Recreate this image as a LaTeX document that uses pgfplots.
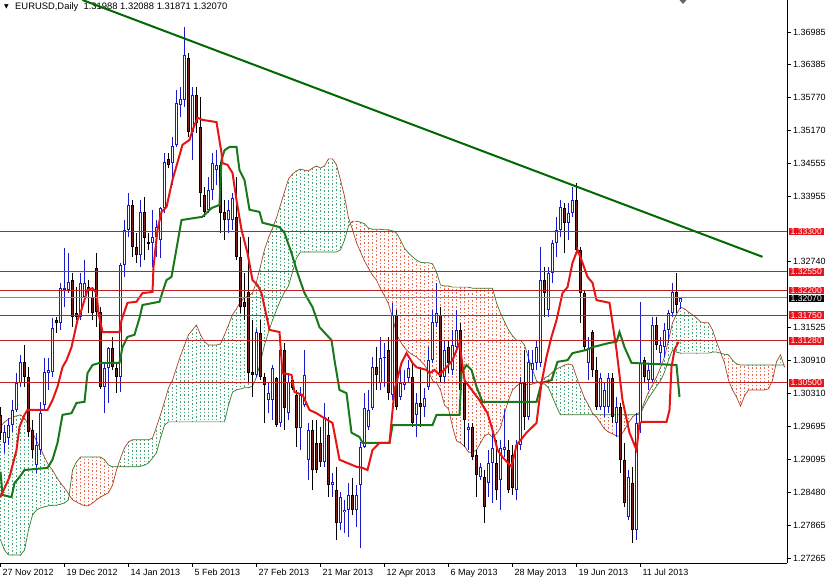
\documentclass[border=0pt]{standalone}
\usepackage{pgfplots}
\pgfplotsset{compat=1.18}
\usepackage{pgfplotstable}
\usepackage{fontspec}
\setmainfont{Liberation Sans}
\newfontfamily\symfont{DejaVu Sans}
\definecolor{bullc}{RGB}{25,25,200}
\definecolor{bearc}{RGB}{120,32,25}
\definecolor{tenkanc}{RGB}{230,20,20}
\definecolor{kijunc}{RGB}{25,120,25}
\definecolor{spanA}{RGB}{170,70,45}
\definecolor{spanB}{RGB}{60,120,45}
\definecolor{hatchG}{RGB}{70,165,120}
\definecolor{hatchR}{RGB}{230,105,80}
\definecolor{hlinec}{RGB}{190,35,35}
\definecolor{LabelRed}{RGB}{232,20,28}
\definecolor{curline}{RGB}{120,140,165}
\definecolor{trendc}{RGB}{0,105,0}

\pgfplotstableread{
i o h l c
1 1.2939 1.2972 1.2921 1.2959
2 1.2948 1.2985 1.2935 1.2972
3 1.2972 1.3018 1.2959 1.3000
4 1.3000 1.3068 1.2996 1.3050
5 1.3050 1.3102 1.3043 1.3089
9 1.2898 1.2958 1.2884 1.2935
10 1.2926 1.3015 1.2917 1.2994
11 1.3009 1.3096 1.3000 1.3070
12 1.3068 1.3096 1.3037 1.3074
13 1.3070 1.3170 1.3061 1.3151
15 1.3161 1.3235 1.3148 1.3225
16 1.3222 1.3299 1.3190 1.3225
17 1.3222 1.3290 1.3216 1.3237
20 1.3172 1.3253 1.3166 1.3235
21 1.3209 1.3277 1.3203 1.3235
26 1.3043 1.3087 1.2994 1.3078
27 1.3078 1.3116 1.3013 1.3115
30 1.3061 1.3272 1.3033 1.3268
31 1.3268 1.3351 1.3246 1.3333
32 1.3333 1.3401 1.3320 1.3379
35 1.3286 1.3388 1.3264 1.3366
38 1.3309 1.3370 1.3264 1.3320
39 1.3320 1.3351 1.3283 1.3338
40 1.3314 1.3375 1.3281 1.3373
41 1.3373 1.3475 1.3364 1.3458
43 1.3456 1.3505 1.3416 1.3488
44 1.3490 1.3591 1.3486 1.3567
45 1.3564 1.3597 1.3541 1.3575
46 1.3573 1.3708 1.3560 1.3656
48 1.3514 1.3597 1.3462 1.3582
52 1.3370 1.3431 1.3364 1.3407
53 1.3407 1.3475 1.3388 1.3456
54 1.3443 1.3480 1.3416 1.3453
57 1.3351 1.3388 1.3327 1.3370
58 1.3351 1.3401 1.3333 1.3392
64 1.3065 1.3150 1.3061 1.3144
67 1.3018 1.3050 1.2994 1.3031
68 1.3018 1.3083 1.2981 1.3078
70 1.2976 1.3129 1.2969 1.3111
72 1.2994 1.3068 1.2981 1.3052
75 1.2967 1.3043 1.2926 1.3028
76 1.3009 1.3111 1.3006 1.3065
77 1.2908 1.2976 1.2871 1.2963
81 1.2904 1.3013 1.2895 1.2987
83 1.2861 1.2884 1.2839 1.2867
85 1.2791 1.2848 1.2778 1.2839
86 1.2811 1.2834 1.2773 1.2815
87 1.2815 1.2865 1.2765 1.2843
89 1.2815 1.2861 1.2784 1.2843
90 1.2861 1.2941 1.2745 1.2932
91 1.2932 1.3031 1.2930 1.3004
92 1.2969 1.3037 1.2963 1.3000
93 1.3004 1.3098 1.3000 1.3079
95 1.3050 1.3135 1.3037 1.3096
96 1.3096 1.3124 1.3043 1.3098
98 1.3028 1.3198 1.3018 1.3176
100 1.3024 1.3079 1.3018 1.3050
101 1.3046 1.3074 1.3037 1.3052
102 1.3059 1.3092 1.3050 1.3078
104 1.2991 1.3031 1.2950 1.3013
106 1.3006 1.3041 1.2987 1.3022
107 1.3043 1.3116 1.3037 1.3092
108 1.3092 1.3185 1.3087 1.3163
109 1.3161 1.3235 1.3153 1.3179
111 1.3061 1.3129 1.3050 1.3111
113 1.3074 1.3148 1.3065 1.3120
114 1.3116 1.3185 1.3111 1.3148
117 1.2963 1.2976 1.2926 1.2969
120 1.2876 1.2902 1.2871 1.2895
122 1.2865 1.2926 1.2839 1.2902
123 1.2902 1.2963 1.2828 1.2930
125 1.2871 1.2945 1.2815 1.2930
126 1.2926 1.3000 1.2913 1.2932
129 1.2852 1.2945 1.2834 1.2935
130 1.2935 1.3061 1.2926 1.3050
132 1.2987 1.3111 1.2981 1.3089
133 1.3074 1.3111 1.3050 1.3087
134 1.3087 1.3129 1.3074 1.3116
135 1.3087 1.3301 1.3079 1.3240
137 1.3185 1.3264 1.3172 1.3253
138 1.3253 1.3314 1.3235 1.3309
139 1.3309 1.3357 1.3283 1.3333
140 1.3333 1.3388 1.3320 1.3375
142 1.3346 1.3383 1.3314 1.3364
143 1.3364 1.3412 1.3357 1.3388
147 1.3087 1.3135 1.3055 1.3115
150 1.3006 1.3068 1.3000 1.3059
151 1.3006 1.3050 1.2987 1.3037
152 1.3006 1.3068 1.2994 1.3059
154 1.2976 1.3024 1.2950 1.3006
157 1.2802 1.2889 1.2797 1.2876
159 1.2778 1.2994 1.2760 1.2976
160 1.2976 1.3200 1.2958 1.3087
162 1.3055 1.3087 1.3037 1.3074
163 1.3055 1.3172 1.3050 1.3157
165 1.3105 1.3135 1.3087 1.3120
166 1.3116 1.3161 1.3098 1.3148
167 1.3148 1.3185 1.3124 1.3179
168 1.3179 1.3235 1.3172 1.3218
170 1.31988 1.32088 1.31871 1.32070
}\bull

\pgfplotstableread{
i o h l c
0 1.2991 1.3006 1.2945 1.2958
6 1.3089 1.3120 1.3043 1.3061
7 1.3061 1.3079 1.2950 1.2959
8 1.2963 1.2981 1.2911 1.2926
14 1.3166 1.3172 1.3142 1.3161
18 1.3240 1.3253 1.3153 1.3172
19 1.3179 1.3227 1.3166 1.3172
22 1.3227 1.3240 1.3179 1.3222
23 1.3209 1.3222 1.3166 1.3179
24 1.3262 1.3290 1.3153 1.3181
25 1.3181 1.3190 1.3039 1.3043
28 1.3115 1.3135 1.3074 1.3079
29 1.3078 1.3087 1.3031 1.3061
33 1.3379 1.3388 1.3283 1.3301
34 1.3301 1.3327 1.3272 1.3286
36 1.3366 1.3394 1.3277 1.3318
37 1.3310 1.3327 1.3296 1.3307
42 1.3464 1.3475 1.3447 1.3453
47 1.3650 1.3660 1.3505 1.3514
49 1.3582 1.3597 1.3512 1.3530
50 1.3523 1.3578 1.3375 1.3401
51 1.3397 1.3412 1.3357 1.3366
55 1.3453 1.3458 1.3327 1.3364
56 1.3366 1.3388 1.3314 1.3351
59 1.3357 1.3431 1.3277 1.3283
60 1.3283 1.3320 1.3179 1.3190
61 1.3200 1.3253 1.3166 1.3190
62 1.3218 1.3320 1.3050 1.3068
63 1.3070 1.3166 1.3024 1.3065
65 1.3142 1.3166 1.3055 1.3061
66 1.3061 1.3068 1.2976 1.3046
69 1.3059 1.3061 1.2969 1.2972
71 1.3111 1.3124 1.2963 1.3004
73 1.3055 1.3061 1.3037 1.3041
74 1.3028 1.3037 1.2932 1.2967
78 1.2963 1.2981 1.2852 1.2889
79 1.2939 1.2981 1.2884 1.2889
80 1.2939 1.2969 1.2895 1.2904
82 1.2954 1.2987 1.2839 1.2861
84 1.2852 1.2895 1.2760 1.2791
88 1.2843 1.2874 1.2806 1.2815
94 1.3079 1.3116 1.3037 1.3065
97 1.3111 1.3135 1.3018 1.3031
99 1.3176 1.3185 1.3000 1.3006
103 1.3061 1.3087 1.2969 1.2976
105 1.3013 1.3079 1.2969 1.3006
110 1.3176 1.3190 1.3050 1.3061
112 1.3116 1.3129 1.3068 1.3087
115 1.3148 1.3161 1.3031 1.3037
116 1.3050 1.3055 1.2932 1.2981
118 1.2969 1.2976 1.2908 1.2913
119 1.2917 1.2926 1.2839 1.2880
121 1.2876 1.2889 1.2791 1.2821
124 1.2902 1.2945 1.2834 1.2852
127 1.2926 1.2945 1.2847 1.2852
128 1.2917 1.2935 1.2843 1.2856
131 1.3050 1.3111 1.2963 1.2987
136 1.3240 1.3264 1.3172 1.3216
141 1.3373 1.3383 1.3290 1.3346
144 1.3388 1.3419 1.3290 1.3296
145 1.3296 1.3301 1.3161 1.3216
146 1.3216 1.3222 1.3111 1.3116
148 1.3144 1.3148 1.3061 1.3074
149 1.3074 1.3098 1.3000 1.3006
153 1.3059 1.3068 1.2976 1.2987
155 1.3006 1.3013 1.2884 1.2908
156 1.2908 1.2939 1.2821 1.2828
158 1.2865 1.2895 1.2754 1.2778
161 1.3092 1.3098 1.3050 1.3061
164 1.3157 1.3172 1.3111 1.3120
169 1.3218 1.3253 1.3179 1.3194
}\bear

\pgfplotstableread{
i A B
0 1.2969 1.2760
1 1.2978 1.2741
2 1.2983 1.2732
3 1.2987 1.2732
4 1.2989 1.2732
5 1.2991 1.2732
6 1.2985 1.2741
7 1.2972 1.2778
8 1.2958 1.2806
9 1.2943 1.2815
10 1.2928 1.2819
11 1.2913 1.2821
12 1.2898 1.2823
13 1.2889 1.2824
14 1.2876 1.2824
15 1.2865 1.2826
16 1.2856 1.2828
17 1.2845 1.2834
18 1.2834 1.2889
19 1.2830 1.2904
20 1.2826 1.2913
21 1.2823 1.2913
22 1.2823 1.2913
23 1.2828 1.2913
24 1.2834 1.2913
25 1.2839 1.2913
26 1.2843 1.2908
27 1.2847 1.2898
28 1.2861 1.2895
29 1.2889 1.2895
30 1.2911 1.2895
31 1.2930 1.2895
32 1.2941 1.2895
33 1.2945 1.2895
34 1.2945 1.2895
35 1.2945 1.2896
36 1.2945 1.2898
37 1.2945 1.2902
38 1.2948 1.2911
39 1.2969 1.2921
40 1.2991 1.2948
41 1.3015 1.2972
42 1.3041 1.2978
43 1.3055 1.2978
44 1.3078 1.2978
45 1.3100 1.2978
46 1.3120 1.2978
47 1.3139 1.2978
48 1.3148 1.2978
49 1.3157 1.2978
50 1.3139 1.2978
51 1.3126 1.2978
52 1.3120 1.2978
53 1.3120 1.2978
54 1.3120 1.2978
55 1.3122 1.2978
56 1.3139 1.2978
57 1.3157 1.3009
58 1.3176 1.3033
59 1.3187 1.3037
60 1.3200 1.3039
61 1.3207 1.3041
62 1.3211 1.3041
63 1.3216 1.3044
64 1.3237 1.3061
65 1.3266 1.3089
66 1.3296 1.3120
67 1.3318 1.3144
68 1.3336 1.3166
69 1.3355 1.3185
70 1.3379 1.3203
71 1.3403 1.3218
72 1.3427 1.3229
73 1.3436 1.3255
74 1.3442 1.3281
75 1.3445 1.3292
76 1.3443 1.3292
77 1.3442 1.3292
78 1.3447 1.3292
79 1.3451 1.3292
80 1.3447 1.3292
81 1.3451 1.3292
82 1.3464 1.3292
83 1.3464 1.3292
84 1.3453 1.3292
85 1.3425 1.3296
86 1.3395 1.3314
87 1.3355 1.3340
88 1.3333 1.3349
89 1.3309 1.3349
90 1.3292 1.3347
91 1.3275 1.3344
92 1.3262 1.3336
93 1.3249 1.3334
94 1.3240 1.3334
95 1.3224 1.3334
96 1.3211 1.3333
97 1.3196 1.3333
98 1.3172 1.3331
99 1.3140 1.3327
100 1.3126 1.3314
101 1.3115 1.3299
102 1.3107 1.3290
103 1.3102 1.3283
104 1.3098 1.3277
105 1.3091 1.3273
106 1.3083 1.3272
107 1.3072 1.3272
108 1.3054 1.3270
109 1.3050 1.3255
110 1.3037 1.3231
111 1.3009 1.3229
112 1.3002 1.3229
113 1.2969 1.3227
114 1.2943 1.3227
115 1.2939 1.3227
116 1.2933 1.3227
117 1.2922 1.3227
118 1.2922 1.3225
119 1.2926 1.3225
120 1.2939 1.3225
121 1.2952 1.3225
122 1.2956 1.3225
123 1.2950 1.3225
124 1.2956 1.3198
125 1.2967 1.3179
126 1.2994 1.3163
127 1.3018 1.3148
128 1.3037 1.3137
129 1.3044 1.3129
130 1.3050 1.3129
131 1.3048 1.3120
132 1.3046 1.3096
133 1.3048 1.3074
134 1.3050 1.3054
135 1.3052 1.3048
136 1.3059 1.3048
137 1.3063 1.3041
138 1.3070 1.3024
139 1.3076 1.3006
140 1.3079 1.2991
141 1.3083 1.2991
142 1.3085 1.2991
143 1.3083 1.2991
144 1.3061 1.2991
145 1.3041 1.2991
146 1.3022 1.2991
147 1.3009 1.2991
148 1.2994 1.2991
149 1.2987 1.2991
150 1.2976 1.2991
151 1.2965 1.2991
152 1.2959 1.2991
153 1.2956 1.2991
154 1.2952 1.2991
155 1.2952 1.2991
156 1.2963 1.2991
157 1.2976 1.2991
158 1.2987 1.2991
159 1.2993 1.2991
160 1.2996 1.2993
161 1.3015 1.3009
162 1.3033 1.3022
163 1.3046 1.3033
164 1.3061 1.3044
165 1.3078 1.3054
166 1.3098 1.3070
167 1.3129 1.3092
168 1.3161 1.3111
169 1.3177 1.3107
170 1.3190 1.3105
171 1.3187 1.3105
172 1.3181 1.3105
173 1.3176 1.3105
174 1.3170 1.3105
175 1.3163 1.3105
176 1.3161 1.3105
177 1.3161 1.3105
178 1.3148 1.3107
179 1.3126 1.3107
180 1.3107 1.3105
181 1.3087 1.3103
182 1.3055 1.3102
183 1.3037 1.3092
184 1.3024 1.3085
185 1.3007 1.3083
186 1.3026 1.3083
187 1.3037 1.3083
188 1.3037 1.3083
189 1.3037 1.3083
190 1.3037 1.3083
191 1.3037 1.3083
192 1.3039 1.3083
193 1.3055 1.3083
194 1.3089 1.3083
195 1.3102 1.3083
196 1.3079 1.3083
}\cloud

\pgfplotstableread{
x y
0 1.2839
2.25 1.2876
4 1.2926
4.75 1.2969
6 1.2991
6.75 1.3000
11.75 1.3000
13 1.3018
14.25 1.3043
15.5 1.3079
16.5 1.3092
17.75 1.3116
19.25 1.3166
20.25 1.3185
21.75 1.3222
23 1.3225
24 1.3216
24.5 1.3179
25.5 1.3144
29.75 1.3144
30.25 1.3166
31.75 1.3198
34 1.3200
35.5 1.3216
38 1.3218
38.25 1.3264
39.25 1.3333
40.25 1.3366
41.5 1.3375
43 1.3425
45.5 1.3490
47.25 1.3499
48 1.3517
49.25 1.3540
50.5 1.3536
54 1.3532
55.25 1.3475
55.5 1.3456
56.75 1.3453
58 1.3438
59 1.3388
60.25 1.3333
61.75 1.3290
63 1.3240
64.25 1.3231
65.25 1.3216
67.25 1.3148
69.75 1.3144
70.5 1.3068
72.75 1.3065
73.5 1.3033
75.5 1.3028
77.25 1.3000
79 1.2994
80.5 1.2987
83 1.2976
84.75 1.2908
89 1.2895
90.5 1.2893
91.75 1.2889
93 1.2926
94.75 1.2939
97.25 1.2939
98.5 1.3037
100.25 1.3087
101.5 1.3105
103 1.3087
104 1.3079
106.5 1.3074
107.25 1.3068
108.5 1.3074
109.75 1.3065
111.5 1.3079
113 1.3092
114.75 1.3124
116 1.3055
119.75 1.3018
121.75 1.2994
123 1.2963
124.25 1.2926
125.5 1.2913
127.75 1.2895
129 1.2935
131.5 1.2958
134 1.2976
135.25 1.3050
136.5 1.3098
137.75 1.3135
139 1.3166
140.5 1.3216
141.75 1.3227
143 1.3272
144.25 1.3296
145.25 1.3277
146.75 1.3246
148 1.3235
149 1.3203
152.25 1.3198
154 1.3111
155.5 1.3018
157.25 1.2958
159 1.2926
159.75 1.2976
160.5 1.2978
166.5 1.2978
167.25 1.3000
167.75 1.3079
168.5 1.3111
169.5 1.3126
}\tenkan

\pgfplotstableread{
x y
0 1.2886
0.5 1.2843
2.75 1.2839
3.5 1.2865
4.75 1.2876
6 1.2889
11.75 1.2893
13 1.2908
14.25 1.2939
15.5 1.2991
17.75 1.2994
19 1.3013
21 1.3015
21.75 1.3068
23 1.3083
24.75 1.3087
29.75 1.3087
30.5 1.3116
31.75 1.3135
33.5 1.3139
34.75 1.3170
35.5 1.3194
39.75 1.3200
40.5 1.3218
41.5 1.3240
42.75 1.3246
43.5 1.3277
45.25 1.3351
50.5 1.3357
52.75 1.3373
54.75 1.3379
55.25 1.3462
56 1.3480
57.25 1.3486
59 1.3486
59.75 1.3443
61 1.3425
62.25 1.3370
64.75 1.3366
65.5 1.3346
69.75 1.3338
71 1.3327
72.75 1.3290
74.25 1.3253
76 1.3216
78 1.3190
79.75 1.3153
82.75 1.3129
83.5 1.3092
84.75 1.3037
86.5 1.3031
87.75 1.2958
89.75 1.2950
90.5 1.2939
97.25 1.2939
98 1.2972
108 1.2972
109 1.2991
114.75 1.2991
115.25 1.3068
116.5 1.3083
117.75 1.3074
119 1.3043
120.5 1.3015
134 1.3015
135.25 1.3050
137.75 1.3055
139.25 1.3089
141.75 1.3092
143 1.3105
146.5 1.3111
148 1.3116
152.25 1.3124
154 1.3126
154.75 1.3144
156 1.3116
157.75 1.3087
169 1.3083
169.75 1.3024
}\kijun

\begin{document}
\begin{tikzpicture}
\useasboundingbox (0pt,-16pt) rectangle (827pt,563pt);
\node[anchor=center, inner sep=0pt, font=\symfont\fontsize{6}{7}\selectfont] at (6.5pt,556pt) {▼};
\node[anchor=west, inner sep=0pt, font=\fontsize{9.4}{10}\selectfont] at (15pt,556pt) {EURUSD,Daily\ \ 1.31988 1.32088 1.31871 1.32070};
\fill[black!60] (679.5pt,563pt) -- (686.5pt,563pt) -- (683pt,559pt) -- cycle;
\begin{axis}[
  at={(0pt,0pt)}, anchor=south west,
  width=787pt, height=563pt, scale only axis,
  xmin=-0.125, xmax=196.625, ymin=1.27172, ymax=1.37576,
  axis x line=bottom, axis y line=right,
  axis line style={-, black, line width=0.8pt},
  tick align=outside, major tick length=3.5pt,
  tick style={black, line width=0.6pt},
  clip mode=individual,
  xtick={0,16,32,48,64,80,96,112,128,144,160},
  xticklabels={27 Nov 2012,19 Dec 2012,14 Jan 2013,5 Feb 2013,27 Feb 2013,21 Mar 2013,12 Apr 2013,6 May 2013,28 May 2013,19 Jun 2013,11 Jul 2013},
  xticklabel style={anchor=north west, xshift=-1.5pt, yshift=1pt, font=\fontsize{9}{10}\selectfont},
  ytick={1.27265,1.27865,1.28480,1.29095,1.29695,1.30310,1.30910,1.31525,1.32740,1.33955,1.34555,1.35170,1.35770,1.36385,1.36985},
  yticklabels={1.27265,1.27865,1.28480,1.29095,1.29695,1.30310,1.30910,1.31525,1.32740,1.33955,1.34555,1.35170,1.35770,1.36385,1.36985},
  yticklabel style={anchor=west, xshift=-1pt, font=\fontsize{9}{10}\selectfont},
]
% cloud hatching: green where span A is above span B, red where B is above A
\addplot[hatchG, line width=1pt, dash pattern=on 1.5pt off 2pt, quiver={u=0, v={-max(\thisrow{A}-\thisrow{B},0)}}] table[x=i,y=A]{\cloud};
\addplot[hatchR, line width=1pt, dash pattern=on 1.5pt off 2pt, quiver={u=0, v={max(\thisrow{B}-\thisrow{A},0)}}] table[x=i,y=A]{\cloud};
\addplot[spanA, line width=0.7pt] table[x=i,y=A]{\cloud};
\addplot[spanB, line width=0.7pt] table[x=i,y=B]{\cloud};
% bullish candles
\addplot[bullc, line width=1pt, quiver={u=0, v=\thisrow{h}-\thisrow{l}}] table[x=i,y=l]{\bull};
\addplot[bullc, line width=3pt, quiver={u=0, v={max(\thisrow{c}-\thisrow{o},0.00008)}}] table[x=i,y=o]{\bull};
\addplot[white, line width=1pt, quiver={u=0, v={max(\thisrow{c}-\thisrow{o}-0.0003,0)}}] table[x=i,y expr=\thisrow{o}+0.00015]{\bull};
% bearish candles
\addplot[black, line width=1pt, quiver={u=0, v=\thisrow{h}-\thisrow{l}}] table[x=i,y=l]{\bear};
\addplot[black, line width=3pt, quiver={u=0, v={max(\thisrow{o}-\thisrow{c},0.00008)}}] table[x=i,y=c]{\bear};
\addplot[bearc, line width=1pt, quiver={u=0, v={max(\thisrow{o}-\thisrow{c}-0.0003,0)}}] table[x=i,y expr=\thisrow{c}+0.00015]{\bear};
% ichimoku lines
\addplot[kijunc, line width=2pt] table[x=x,y=y]{\kijun};
\addplot[tenkanc, line width=2pt] table[x=x,y=y]{\tenkan};
% horizontal levels
\addplot[hlinec, line width=1pt] coordinates {(-0.125,1.3330) (196.625,1.3330)};
\addplot[hlinec, line width=1pt] coordinates {(-0.125,1.3255) (196.625,1.3255)};
\addplot[hlinec, line width=1pt] coordinates {(-0.125,1.3220) (196.625,1.3220)};
\addplot[hlinec, line width=1pt] coordinates {(-0.125,1.3175) (196.625,1.3175)};
\addplot[hlinec, line width=1pt] coordinates {(-0.125,1.3128) (196.625,1.3128)};
\addplot[hlinec, line width=1pt] coordinates {(-0.125,1.3050) (196.625,1.3050)};
\addplot[curline, line width=1pt] coordinates {(-0.125,1.3207) (196.625,1.3207)};
% trend line
\addplot[trendc, line width=2pt] coordinates {(20.5,1.37576) (190.5,1.3283)};
% price labels
\tikzset{plbl/.style={anchor=west, inner xsep=2pt, inner ysep=0pt, minimum height=7.6pt, xshift=1.5pt, font=\fontsize{8.6}{9}\selectfont}}
\node[plbl, fill=LabelRed, text=white] at (axis cs:196.625,1.3330) {1.33300};
\node[plbl, fill=LabelRed, text=white] at (axis cs:196.625,1.3255) {1.32550};
\node[plbl, fill=LabelRed, text=white, yshift=0.4pt] at (axis cs:196.625,1.3220) {1.32200};
\node[plbl, fill=LabelRed, text=white] at (axis cs:196.625,1.3175) {1.31750};
\node[plbl, fill=LabelRed, text=white] at (axis cs:196.625,1.3128) {1.31280};
\node[plbl, fill=LabelRed, text=white] at (axis cs:196.625,1.3050) {1.30500};
\node[plbl, fill=black, text=white, yshift=-0.4pt] at (axis cs:196.625,1.3207) {1.32070};
\end{axis}
\end{tikzpicture}
\end{document}
